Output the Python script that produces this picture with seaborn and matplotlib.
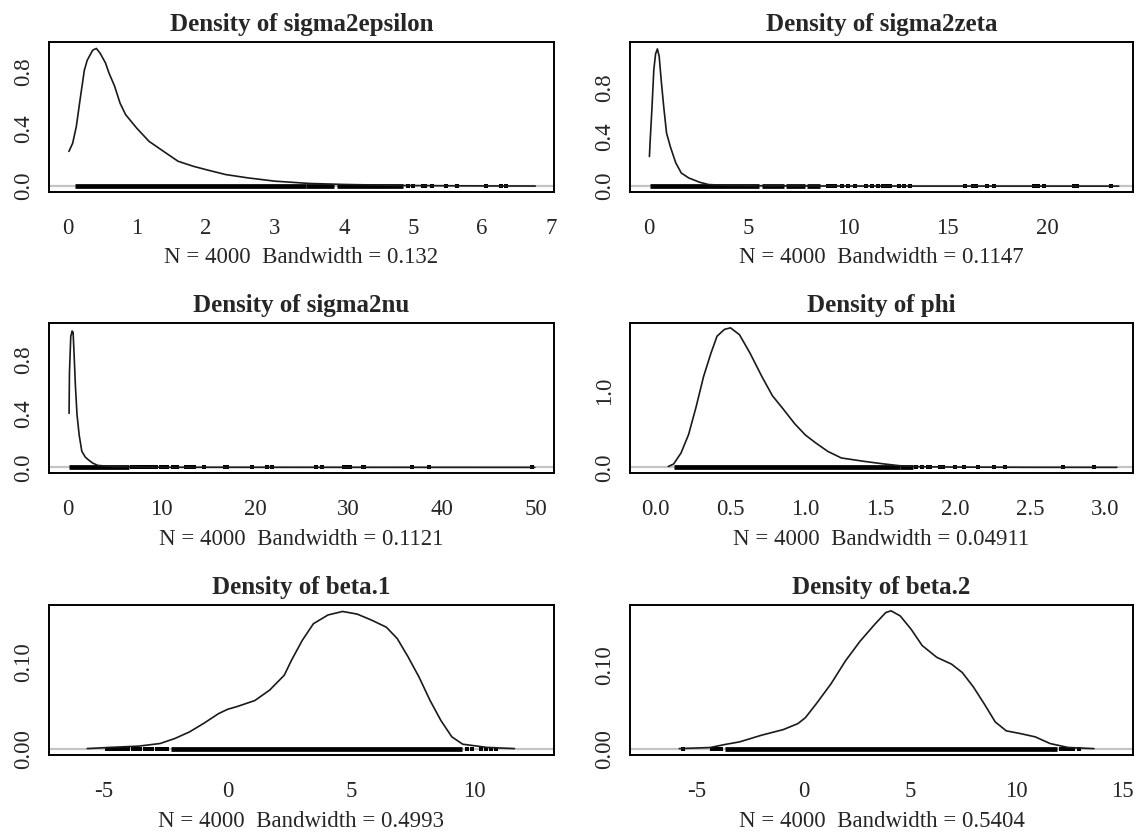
import numpy as np
import matplotlib
matplotlib.use("Agg")
import matplotlib.pyplot as plt
import seaborn as sns

# density curves (x, density)
eps_x = [0.02, 0.074, 0.127, 0.18, 0.243, 0.285, 0.364, 0.417, 0.47, 0.55, 0.60, 0.68, 0.76, 0.84,
         1.0, 1.18, 1.39, 1.60, 1.82, 2.0, 2.29, 2.61, 3.0, 3.5, 4.0, 4.82, 5.5, 6.2, 6.77]
eps_y = [0.243, 0.30, 0.417, 0.60, 0.81, 0.88, 0.95, 0.962, 0.93, 0.86, 0.79, 0.70, 0.58, 0.50,
         0.406, 0.313, 0.243, 0.174, 0.139, 0.116, 0.081, 0.058, 0.035, 0.019, 0.012, 0.005, 0.003, 0.0015, 0.001]
eps_rug_runs = [(0.11, 3.45), (3.45, 3.85), (3.9, 4.85)]
eps_rug = [4.93, 5.0, 5.14, 5.18, 5.27, 5.48, 5.64, 6.06, 6.28, 6.35]

zeta_x = [0.02, 0.055, 0.15, 0.24, 0.33, 0.42, 0.51, 0.61, 0.74, 0.88, 1.07, 1.34, 1.62, 1.99, 2.54, 3.0,
          4.0, 6.0, 10.0, 16.0, 23.6]
zeta_y = [0.24, 0.36, 0.64, 0.94, 1.07, 1.11, 1.05, 0.86, 0.64, 0.43, 0.32, 0.19, 0.107, 0.067, 0.032, 0.013,
          0.006, 0.003, 0.001, 0.0007, 0.0005]
zeta_rug_runs = [(0.05, 5.55), (5.7, 6.8), (6.9, 7.85), (7.95, 8.6)]
zeta_rug = [8.97, 9.15, 9.34, 9.7, 10.0, 10.35, 10.9, 11.2, 11.5, 11.75, 11.9, 12.1, 12.55, 12.8, 13.1,
            15.86, 16.3, 16.45, 16.97, 17.33, 19.36, 19.55, 19.83, 21.35, 21.5, 23.2]

nu_x = [0.12, 0.16, 0.30, 0.45, 0.55, 0.65, 0.80, 0.97, 1.2, 1.48, 1.87, 2.3, 2.65, 3.2, 5.0, 10.0, 49.9]
nu_y = [0.40, 0.70, 0.97, 1.01, 1.0, 0.85, 0.60, 0.39, 0.24, 0.12, 0.075, 0.05, 0.032, 0.015, 0.005, 0.001, 0.0003]
nu_rug_runs = [(0.12, 6.5)]
nu_rug = [6.86, 7.2, 7.6, 7.9, 8.3, 8.5, 8.7, 9.0, 9.2, 9.4, 9.9, 10.3, 10.6, 11.2, 11.7, 12.6, 13.0, 13.5,
          14.5, 16.8, 17.0, 19.7, 21.3, 21.8, 26.5, 27.2, 29.5, 29.9, 30.2, 31.5, 31.7, 36.8, 38.6, 49.6]

phi_x = [0.085, 0.12, 0.17, 0.22, 0.27, 0.32, 0.37, 0.41, 0.46, 0.50, 0.56, 0.63, 0.71, 0.78, 0.85, 0.93,
         1.0, 1.07, 1.15, 1.24, 1.39, 1.51, 1.63, 1.76, 2.0, 2.5, 3.08]
phi_y = [0.013, 0.044, 0.19, 0.43, 0.79, 1.19, 1.50, 1.72, 1.81, 1.83, 1.74, 1.50, 1.19, 0.94, 0.77, 0.57,
         0.425, 0.32, 0.21, 0.124, 0.08, 0.049, 0.022, 0.009, 0.004, 0.001, 0.0005]
phi_rug_runs = [(0.12, 1.63), (1.63, 1.72)]
phi_rug = [1.74, 1.78, 1.82, 1.83, 1.90, 1.92, 2.0, 2.06, 2.15, 2.26, 2.33, 2.72, 2.93]

b1_x = [-5.68, -4.79, -3.6, -2.73, -2.14, -1.55, -0.96, -0.37, 0.0, 0.37, 1.1, 1.7, 2.29, 2.58, 3.02, 3.47,
        4.06, 4.65, 5.24, 5.83, 6.42, 6.86, 7.30, 7.74, 8.19, 8.63, 9.07, 9.51, 10.1, 10.5, 11.6]
b1_y = [0.001, 0.0023, 0.0038, 0.0068, 0.0125, 0.020, 0.030, 0.041, 0.046, 0.049, 0.056, 0.068, 0.085, 0.102,
        0.125, 0.144, 0.154, 0.158, 0.155, 0.148, 0.140, 0.127, 0.106, 0.083, 0.056, 0.033, 0.0144, 0.006,
        0.0038, 0.0023, 0.001]
b1_rug_runs = [(-2.3, 9.5)]
b1_rug = [-4.87, -4.75, -4.6, -4.5, -4.35, -4.2, -4.05, -3.85, -3.7, -3.55, -3.35, -3.2, -3.05, -2.85,
          -2.7, -2.55, -2.45, 9.7, 9.9, 10.24, 10.44, 10.64, 10.84]

b2_x = [-5.84, -4.38, -3.69, -3.0, -1.98, -0.95, -0.26, 0.09, 0.6, 1.29, 1.98, 2.66, 3.35, 3.87, 4.12, 4.55,
        5.07, 5.58, 6.27, 6.96, 7.47, 7.99, 8.5, 9.02, 9.54, 10.2, 10.9, 11.6, 12.45, 13.66]
b2_y = [0.001, 0.0023, 0.0059, 0.009, 0.0168, 0.0235, 0.0306, 0.0376, 0.054, 0.0775, 0.105, 0.128, 0.148,
        0.162, 0.164, 0.158, 0.142, 0.123, 0.109, 0.101, 0.091, 0.074, 0.054, 0.0325, 0.022, 0.0188, 0.0149,
        0.007, 0.0023, 0.001]
b2_rug_runs = [(-3.7, 11.94)]
b2_rug = [-5.67, -4.3, -4.15, -4.0, -3.9, 12.1, 12.28, 12.5, 12.7, 12.97]

titles = ["Density of sigma2epsilon", "Density of sigma2zeta", "Density of sigma2nu",
          "Density of phi", "Density of beta.1", "Density of beta.2"]
bandwidths = ["0.132", "0.1147", "0.1121", "0.04911", "0.4993", "0.5404"]
n_draws = 4000

xlims = [(-0.269, 7.04), (-0.956, 24.32), (-2.03, 51.95), (-0.171, 3.188), (-7.23, 13.2), (-8.16, 15.5)]
ylims = [(-0.039, 1.009), (-0.045, 1.168), (-0.041, 1.07), (-0.073, 1.894), (-0.0064, 0.1654), (-0.0066, 0.1709)]
xticks = [list(range(0, 8)), [0, 5, 10, 15, 20], [0, 10, 20, 30, 40, 50],
          [0.0, 0.5, 1.0, 1.5, 2.0, 2.5, 3.0], [-5, 0, 5, 10], [-5, 0, 5, 10, 15]]
xticklabels = [[str(v) for v in xticks[0]], ["0", "5", "10", "15", "20"], ["0", "10", "20", "30", "40", "50"],
               ["0.0", "0.5", "1.0", "1.5", "2.0", "2.5", "3.0"], ["-5", "0", "5", "10"], ["-5", "0", "5", "10", "15"]]
yticks = [[0, 0.2, 0.4, 0.6, 0.8, 1.0]] * 3 + [[0, 0.5, 1.0, 1.5]] + [[0, 0.05, 0.10, 0.15]] * 2
yticklabels = [["0.0", "", "0.4", "", "0.8", ""]] * 3 + [["0.0", "", "1.0", ""]] + [["0.00", "", "0.10", ""]] * 2

curves = [(eps_x, eps_y), (zeta_x, zeta_y), (nu_x, nu_y), (phi_x, phi_y), (b1_x, b1_y), (b2_x, b2_y)]
rug_runs = [eps_rug_runs, zeta_rug_runs, nu_rug_runs, phi_rug_runs, b1_rug_runs, b2_rug_runs]
rugs = [eps_rug, zeta_rug, nu_rug, phi_rug, b1_rug, b2_rug]

sns.set_style("white")
plt.rcParams['font.family'] = ['Liberation Serif', 'DejaVu Serif']
plt.rcParams['axes.unicode_minus'] = False

fig = plt.figure(figsize=(11.44, 8.33), dpi=100)

# axes boxes in figure fractions [left, bottom, width, height]
col_left = [0.0428, 0.5507]
col_width = [0.4414, 0.4397]
row_bottom = [0.7698, 0.4322, 0.0936]
row_height = 0.1801

for i in range(6):
    r, c = divmod(i, 2)
    ax = fig.add_axes([col_left[c], row_bottom[r], col_width[c], row_height])

    ax.axhline(0, color="#c4c4c4", lw=1.6, zorder=1)
    cx, cy = curves[i]
    sns.lineplot(x=cx, y=cy, ax=ax, color="#1a1a1a", lw=1.2, sort=False, estimator=None, zorder=3)
    for a, b in rug_runs[i]:
        ax.plot([a, b], [0, 0], color="black", lw=3.4, solid_capstyle="butt", zorder=2)
    sns.scatterplot(x=rugs[i], y=[0] * len(rugs[i]), ax=ax, marker="s", s=8, color="black",
                    linewidth=0, zorder=2)

    ax.set_xlim(*xlims[i])
    ax.set_ylim(*ylims[i])
    ax.set_xticks(xticks[i])
    ax.set_xticklabels(xticklabels[i])
    ax.set_yticks(yticks[i])
    ax.set_yticklabels(yticklabels[i], rotation=90, va="center")
    ax.tick_params(axis="both", direction="out", length=7, width=1.2, labelsize=16.5, color="black")
    ax.tick_params(axis="x", pad=12)
    ax.tick_params(axis="y", pad=4)
    for s in ax.spines.values():
        s.set_linewidth(1.4)
        s.set_color("black")
    ax.set_title(titles[i], fontsize=18, fontweight="bold", pad=8)
    ax.set_xlabel(f"N = {n_draws}  Bandwidth = {bandwidths[i]}", fontsize=16.5, labelpad=6)
    ax.set_ylabel("")

fig.savefig("out.png", dpi=100, facecolor="white")
